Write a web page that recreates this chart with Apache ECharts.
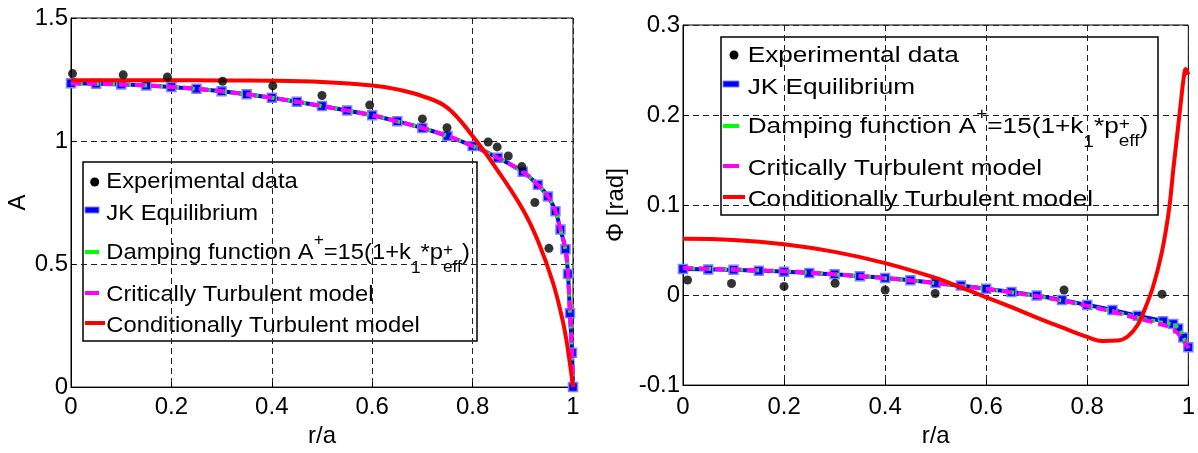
<!DOCTYPE html>
<html>
<head>
<meta charset="utf-8">
<script src="https://cdn.jsdelivr.net/npm/echarts@6/dist/echarts.min.js"></script>
<style>
  html, body { margin: 0; padding: 0; background: #fff; }
  #chart { width: 1198px; height: 453px; }
</style>
</head>
<body>
<div id="chart"></div>
<script>
// ===== Left panel: A vs r/a =====
const rExpA = [0.003, 0.104, 0.192, 0.302, 0.402, 0.5, 0.595, 0.7, 0.749, 0.831, 0.849, 0.871, 0.898, 0.924, 0.952];
const expA  = [1.274, 1.269, 1.26, 1.243, 1.224, 1.185, 1.146, 1.09, 1.054, 0.996, 0.976, 0.939, 0.896, 0.75, 0.564];

const rModA = [0, 0.05, 0.1, 0.15, 0.2, 0.25, 0.3, 0.35, 0.4, 0.45, 0.5, 0.55, 0.6, 0.65, 0.7, 0.75, 0.8, 0.85, 0.9, 0.93, 0.95, 0.965, 0.975, 0.985, 0.99, 0.994, 0.998, 1];
const jkA   = [1.235, 1.233, 1.23, 1.226, 1.22, 1.212, 1.202, 1.19, 1.176, 1.16, 1.142, 1.124, 1.105, 1.08, 1.053, 1.02, 0.98, 0.932, 0.875, 0.822, 0.775, 0.715, 0.64, 0.56, 0.46, 0.3, 0.14, 0];
const dampA = [1.235, 1.233, 1.23, 1.226, 1.22, 1.212, 1.202, 1.19, 1.176, 1.16, 1.142, 1.124, 1.105, 1.08, 1.053, 1.02, 0.98, 0.932, 0.875, 0.822, 0.775, 0.715, 0.64, 0.56, 0.46, 0.3, 0.14, 0];
const critA = [1.235, 1.233, 1.23, 1.226, 1.22, 1.212, 1.202, 1.19, 1.176, 1.16, 1.142, 1.124, 1.105, 1.08, 1.053, 1.02, 0.98, 0.932, 0.875, 0.822, 0.775, 0.715, 0.64, 0.56, 0.46, 0.3, 0.14, 0];

const rCondA = [0, 0.1, 0.2, 0.3, 0.4, 0.5, 0.6, 0.65, 0.7, 0.75, 0.8, 0.85, 0.9, 0.93, 0.96, 0.98, 0.99, 1];
const condA  = [1.247, 1.247, 1.247, 1.246, 1.245, 1.24, 1.226, 1.21, 1.183, 1.135, 1.02, 0.88, 0.722, 0.595, 0.425, 0.265, 0.15, 0];

// ===== Right panel: Phi vs r/a =====
const rExpP = [0.009, 0.096, 0.2, 0.301, 0.4, 0.499, 0.754, 0.948];
const expP  = [0.0167, 0.0128, 0.0096, 0.0131, 0.0057, 0.0018, 0.0057, 0.001];

const rModP = [0, 0.05, 0.1, 0.15, 0.2, 0.25, 0.3, 0.35, 0.4, 0.45, 0.5, 0.55, 0.6, 0.65, 0.7, 0.75, 0.8, 0.85, 0.9, 0.95, 0.97, 0.98, 0.99, 1];
const jkP   = [0.029, 0.0285, 0.028, 0.027, 0.026, 0.0245, 0.023, 0.021, 0.019, 0.0165, 0.0135, 0.0105, 0.007, 0.0035, -0.0005, -0.0055, -0.011, -0.0165, -0.023, -0.029, -0.032, -0.037, -0.047, -0.058];
const dampP = [0.03, 0.0292, 0.0285, 0.0275, 0.0265, 0.025, 0.023, 0.021, 0.0188, 0.0162, 0.0132, 0.0102, 0.0067, 0.003, -0.0012, -0.0062, -0.012, -0.018, -0.025, -0.031, -0.033, -0.037, -0.047, -0.059];
const critP = [0.03, 0.0292, 0.0285, 0.0275, 0.0265, 0.025, 0.023, 0.021, 0.0188, 0.0162, 0.0132, 0.0102, 0.0067, 0.003, -0.0012, -0.0062, -0.012, -0.0185, -0.026, -0.033, -0.038, -0.043, -0.05, -0.059];

const rCondP = [0, 0.1, 0.2, 0.3, 0.4, 0.5, 0.55, 0.6, 0.65, 0.7, 0.75, 0.8, 0.83, 0.86, 0.88, 0.9, 0.915, 0.93, 0.945, 0.955, 0.963, 0.97, 0.978, 0.985, 0.991, 0.995, 1];
const condP  = [0.0625, 0.0612, 0.0565, 0.048, 0.0355, 0.019, 0.0085, -0.0025, -0.0135, -0.025, -0.036, -0.0465, -0.051, -0.0505, -0.046, -0.033, -0.014, 0.009, 0.041, 0.07, 0.1, 0.138, 0.178, 0.213, 0.242, 0.251, 0.245];

// ===== Axes ticks =====
const xTicks = { min: 0, max: 1, interval: 0.2 };
const yTicksA = { min: 0, max: 1.5, interval: 0.5 };
const yTicksP = { min: -0.1, max: 0.3, interval: 0.1 };

const seriesNames = ['Experimental data', 'JK Equilibrium', 'Damping function', 'Critically Turbulent model', 'Conditionally Turbulent model'];

const FONT = '"Liberation Sans", Arial, sans-serif';
const pts = (xs, ys) => xs.map((x, i) => [x, ys[i]]);

// ===== Series builders =====
function panelSeries(idx, d){
  const sm = { smooth: 0.4, clip: true };
  return [
    Object.assign({ name: seriesNames[1], type: 'line', xAxisIndex: idx, yAxisIndex: idx, data: pts(d.rMod, d.jk),
      symbol: 'rect', symbolSize: 9, showSymbol: true,
      lineStyle: { color: '#0000ff', width: 4 },
      itemStyle: { color: '#0000ff', borderColor: '#8080ff', borderWidth: 1.5 }, z: 2 }, sm),
    Object.assign({ name: seriesNames[2], type: 'line', xAxisIndex: idx, yAxisIndex: idx, data: pts(d.rMod, d.damp),
      symbol: 'none', lineStyle: { color: '#00ff00', width: 4, type: [4, 4] }, z: 3 }, sm),
    Object.assign({ name: seriesNames[3], type: 'line', xAxisIndex: idx, yAxisIndex: idx, data: pts(d.rMod, d.crit),
      symbol: 'none', lineStyle: { color: '#ff00ff', width: 4, type: [10, 6] }, z: 4 }, sm),
    Object.assign({ name: seriesNames[4], type: 'line', xAxisIndex: idx, yAxisIndex: idx, data: pts(d.rCond, d.cond),
      symbol: 'none', lineStyle: { color: '#ff0000', width: 4 }, z: 5 }, sm),
    { name: seriesNames[0], type: 'scatter', xAxisIndex: idx, yAxisIndex: idx, data: pts(d.rExp, d.exp),
      symbol: 'circle', symbolSize: 9, itemStyle: { color: '#000' }, z: 6 }
  ];
}

const axisCommon = {
  type: 'value',
  axisLine: { show: true, onZero: false, lineStyle: { color: '#000', width: 1 } },
  axisTick: { show: true, inside: true, length: 5, lineStyle: { color: '#000' } },
  splitLine: { show: true, lineStyle: { color: '#222', width: 1, type: [6, 4] } },
  axisLabel: { color: '#000', fontSize: 24, fontFamily: FONT },
  nameTextStyle: { color: '#000', fontSize: 24, fontFamily: FONT }
};

function xAxis(idx, margin, gap){
  return Object.assign({}, axisCommon, xTicks, {
    gridIndex: idx, name: 'r/a', nameLocation: 'middle', nameGap: gap,
    axisLabel: Object.assign({}, axisCommon.axisLabel, { margin })
  });
}
function yAxis(idx, t, name, gap){
  return Object.assign({}, axisCommon, t, {
    gridIndex: idx, name, nameLocation: 'middle', nameGap: gap,
    axisLabel: Object.assign({}, axisCommon.axisLabel, { margin: 3 })
  });
}

// ===== Legend (drawn as graphic so sub/superscripts fit) =====
const ctx = document.createElement('canvas').getContext('2d');
function tw(t, size){ ctx.font = size + 'px ' + FONT; return ctx.measureText(t).width; }
function txt(x, y, t, size){
  return { type: 'text', x, y, style: { text: t, font: size + 'px ' + FONT, fill: '#000',
    align: 'left', verticalAlign: 'middle', textAlign: 'left', textVerticalAlign: 'middle' } };
}
const legendRuns = [
  [{ t: 'Experimental data' }],
  [{ t: 'JK Equilibrium' }],
  [{ t: 'Damping function A' }, { t: '+', s: 16, dy: -19.3 }, { t: '=15(1+k' }, { t: '1', s: 16, dy: 8.5 },
   { t: '*p' }, { stack: ['+', 'eff'] }, { t: ')' }],
  [{ t: 'Critically Turbulent model' }],
  [{ t: 'Conditionally Turbulent model' }]
];
function legendLine(x0, base, runs, sx){
  const kids = [];
  let x = 0;
  runs.forEach(r => {
    if (r.stack){
      kids.push(txt(x, base - 9.3, r.stack[0], 16));
      kids.push(txt(x, base + 8, r.stack[1], 16));
      x += Math.max(tw(r.stack[0], 16), tw(r.stack[1], 16));
    } else {
      const size = r.s || 22;
      kids.push(txt(x, base + (r.dy != null ? r.dy : -6.8), r.t, size));
      x += tw(r.t, size);
    }
  });
  return { type: 'group', x: x0, y: 0, scaleX: sx, children: kids };
}
function legend(box, textX, bases, sx, icons){
  const els = [{ type: 'rect', shape: { x: box[0], y: box[1], width: box[2] - box[0], height: box[3] - box[1] },
    style: { fill: '#fff', stroke: '#000', lineWidth: 1.5 } }];
  els.push({ type: 'circle', shape: { cx: icons.dot[0], cy: icons.dot[1], r: 4.5 }, style: { fill: '#000' } });
  els.push({ type: 'rect', shape: { x: icons.x0, y: icons.ys[0] - 3, width: icons.w, height: 6 },
    style: { fill: '#0000ff', stroke: '#8080ff', lineWidth: 1 } });
  els.push({ type: 'rect', shape: { x: icons.x0, y: icons.ys[1] - 2, width: icons.w, height: 4 }, style: { fill: '#00ff00' } });
  els.push({ type: 'rect', shape: { x: icons.x0, y: icons.ys[2] - 2, width: icons.w, height: 4 }, style: { fill: '#ff00ff' } });
  els.push({ type: 'rect', shape: { x: icons.x0, y: icons.ys[3] - 2, width: icons.wRed, height: 4 }, style: { fill: '#ff0000' } });
  bases.forEach((b, i) => els.push(legendLine(textX, b, legendRuns[i], sx)));
  return { type: 'group', z: 100, children: els };
}

const chart = echarts.init(document.getElementById('chart'));
chart.setOption({
  animation: false,
  backgroundColor: '#fff',
  grid: [
    { left: 71, right: 625, top: 18, bottom: 62, show: true, borderColor: '#000', borderWidth: 1 },
    { left: 683, right: 5, top: 25, bottom: 55, show: true, borderColor: '#000', borderWidth: 1 }
  ],
  xAxis: [xAxis(0, 8, 34), xAxis(1, 10, 35)],
  yAxis: [yAxis(0, yTicksA, 'A', 38), yAxis(1, yTicksP, 'Φ [rad]', 55)],
  series: panelSeries(0, { rMod: rModA, jk: jkA, damp: dampA, crit: critA, rCond: rCondA, cond: condA, rExp: rExpA, exp: expA })
    .concat(panelSeries(1, { rMod: rModP, jk: jkP, damp: dampP, crit: critP, rCond: rCondP, cond: condP, rExp: rExpP, exp: expP })),
  graphic: [
    legend([83, 162, 477, 341], 106.3, [188.7, 220.7, 259.7, 302, 333], 1.08,
      { dot: [94.7, 182], x0: 85, w: 14, wRed: 20, ys: [210, 252, 293, 323] }),
    legend([721, 37, 1158, 215], 747.7, [62.7, 94.7, 133.7, 175.3, 207], 1.19,
      { dot: [734, 55], x0: 723, w: 16, wRed: 22, ys: [84, 126, 166, 197] })
  ]
});
</script>
</body>
</html>
